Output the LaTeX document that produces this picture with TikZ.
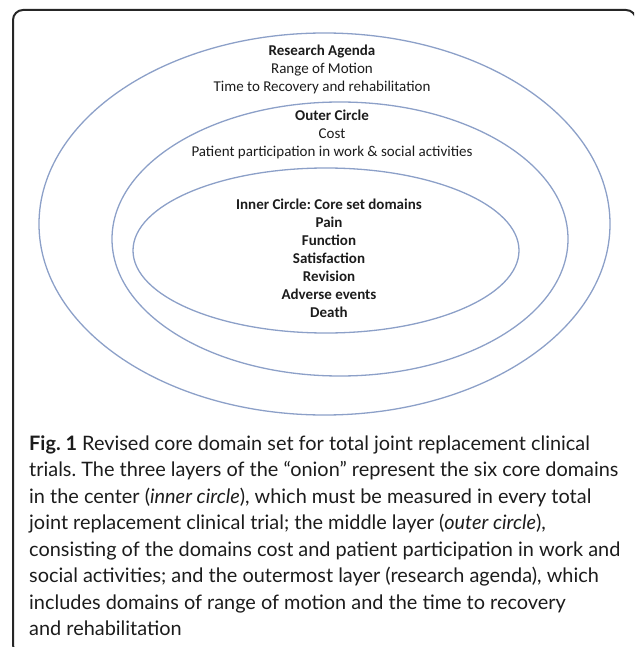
\documentclass[tikz,border=0pt]{standalone}
\usepackage{fontspec}
\setmainfont{Carlito}
\newfontfamily\capfont{Lato}
\usepackage{xcolor}
\usepackage{tikz}
\usetikzlibrary{calc}
\frenchspacing
\definecolor{ringblue}{RGB}{140,160,200}
\definecolor{ink}{RGB}{28,28,28}
\tikzset{
    ring/.style={draw=ringblue, line width=1.3pt},
    lbl/.style={align=center, inner sep=0pt, text=ink, font=\fontsize{15}{18}\selectfont},
    captext/.style={align=left, inner sep=0pt, anchor=north west, text=ink, font=\capfont\fontsize{19.9}{26.5}\selectfont}}

\begin{document}
\begin{tikzpicture}[x=1pt,y=-1pt]
\useasboundingbox (0,0) rectangle (634,647);
\begin{scope}
\clip (0,0) rectangle (634,647);
\draw[line width=2pt, rounded corners=10pt, black!85] (13,10) rectangle (636,655);
\end{scope}

\coordinate (e1) at (324.5,224);
\coordinate (e2) at (340,239);
\coordinate (e3) at (326,250.5);
\draw[ring] (e1) ellipse (285.5pt and 191pt);
\draw[ring] (e2) ellipse (228pt and 137pt);
\draw[ring] (e3) ellipse (193pt and 82.5pt);

\coordinate (t1) at (322,69);
\coordinate (t2) at (332,134.5);
\coordinate (t3) at (329,258);
\node[lbl] (ra) at (t1) {\textbf{Research Agenda}\\Range of Motion\\Time to Recovery and rehabilitation};
\node[lbl] (oc) at (t2) {\textbf{Outer Circle}\\Cost\\Patient participation in work \& social activities};
\node[lbl, font=\fontsize{15}{18}\selectfont\bfseries] (ic) at (t3) {Inner Circle: Core set domains\\Pain\\Function\\Satisfaction\\Revision\\Adverse events\\Death};

\coordinate (c1) at (29,435.5);
\node[captext] (fig) at (c1) {\textbf{Fig. 1} Revised core domain set for total joint replacement clinical\\
trials. The three layers of the “onion” represent the six core domains\\
in the center (\textit{inner circle}), which must be measured in every total\\
joint replacement clinical trial; the middle layer (\textit{outer circle}),\\
consisting of the domains cost and patient participation in work and\\
social activities; and the outermost layer (research agenda), which\\
includes domains of range of motion and the time to recovery\\
and rehabilitation};
\end{tikzpicture}
\end{document}
